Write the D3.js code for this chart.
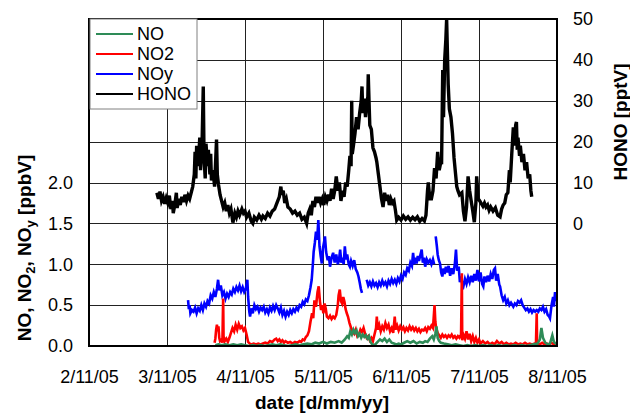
<!DOCTYPE html>
<html>
<head>
<meta charset="utf-8">
<title>NO, NO2, NOy and HONO</title>
<script src="https://d3js.org/d3.v7.min.js"></script>
<style>
body { margin: 0; background: #fff; }
text { font-family: "Liberation Sans", Arial, sans-serif; fill: #000; }
.tick text { font-size: 18px; }
.title { font-weight: bold; font-size: 19px; }
.legend text { font-size: 18px; }
</style>
</head>
<body>
<svg id="chart" width="630" height="413"></svg>
<script>

// ---- data (day of Nov 2005, value) ----
var dayTicks = [2, 3, 4, 5, 6, 7, 8];
var dayLabels = ["2/11/05", "3/11/05", "4/11/05", "5/11/05", "6/11/05", "7/11/05", "8/11/05"];
var leftTicks = [0, 0.5, 1.0, 1.5, 2.0];
var rightTicks = [0, 10, 20, 30, 40, 50];
var seriesNames = ["NO", "NO2", "NOy", "HONO"];
var seriesColors = ["#2e8b57", "#ff0000", "#0000ff", "#000000"];

// HONO [pptV], right axis
var hono = [[2.87,7.5],[2.89,6.0],[2.91,7.8],[2.93,5.5],[2.95,6.5],[2.97,4.8],[2.99,6.2],[3.01,5.0],[3.03,6.8],[3.05,3.5],
  [3.07,5.5],[3.08,2.5],[3.10,4.5],[3.12,7.5],[3.13,3.8],[3.15,6.0],[3.17,4.5],[3.19,6.5],[3.21,5.2],[3.23,7.0],
  [3.25,5.5],[3.27,6.8],[3.29,6.0],[3.31,7.5],[3.33,9.0],[3.35,12],[3.36,17.5],[3.37,11],[3.38,19],[3.40,14],
  [3.42,21],[3.43,13],[3.45,20],[3.465,33.5],[3.475,16],[3.49,11],[3.50,19.5],[3.52,14],[3.53,18],[3.55,12],
  [3.56,17],[3.57,10.5],[3.59,13],[3.61,9],[3.635,20.5],[3.645,12],[3.66,9.5],[3.68,7],[3.70,5.5],[3.72,4],
  [3.74,5],[3.76,3],[3.78,4.5],[3.80,2.5],[3.82,3.5],[3.845,0.2],[3.87,2.5],[3.89,1.5],[3.91,3],[3.93,2],
  [3.96,3.5],[3.98,2.5],[4.00,3],[4.02,1.5],[4.05,2.5],[4.08,0.5],[4.10,0],[4.12,1.5],[4.15,0.8],[4.18,2],
  [4.21,1],[4.23,1.8],[4.26,1.2],[4.29,2.5],[4.32,1.8],[4.35,3],[4.38,3.5],[4.41,5],[4.44,6.5],[4.46,9],
  [4.47,7],[4.49,8],[4.51,5],[4.53,6],[4.55,4],[4.58,3.5],[4.61,2.5],[4.64,3],[4.67,2],[4.70,2.5],
  [4.73,1],[4.76,1.5],[4.79,0],[4.81,2.5],[4.83,3.5],[4.85,2],[4.87,5.5],[4.89,4],[4.91,6.5],[4.93,5],
  [4.95,6.5],[4.97,5],[4.99,6],[5.01,4.5],[5.03,6.5],[5.05,5.5],[5.07,7],[5.09,5.5],[5.11,8.5],[5.13,6],
  [5.15,8],[5.17,11.5],[5.19,8],[5.21,10],[5.23,5.5],[5.25,8],[5.27,6.5],[5.29,10],[5.31,9],[5.33,13],
  [5.345,16.5],[5.36,14],[5.368,30],[5.375,17],[5.39,19],[5.41,22],[5.43,26],[5.45,23],[5.47,27],[5.49,30],
  [5.50,33.5],[5.51,27],[5.53,30.5],[5.545,26],[5.56,29],[5.575,31],[5.58,36.5],[5.59,30],[5.60,24],[5.62,23],
  [5.64,18.5],[5.66,17.5],[5.68,16],[5.69,15],[5.71,12],[5.73,9],[5.75,6],[5.77,4],[5.79,7.5],[5.81,5.5],
  [5.83,7],[5.85,4.5],[5.87,6],[5.89,5],[5.91,5.5],[5.93,3],[5.945,0.8],[5.97,1.5],[6.00,0.8],[6.03,1.8],
  [6.06,1],[6.09,1.6],[6.12,0.8],[6.15,1.5],[6.18,0.9],[6.21,1.6],[6.24,0.5],[6.27,1.2],[6.30,0.6],[6.32,2],
  [6.34,8],[6.35,10],[6.37,6],[6.39,6],[6.41,8],[6.43,13.5],[6.45,11],[6.47,17.5],[6.49,13],[6.51,15],
  [6.52,14.5],[6.535,37.5],[6.545,26],[6.56,40],[6.575,45],[6.585,50],[6.595,42],[6.605,34],[6.62,28],[6.64,26],
  [6.66,22],[6.68,16],[6.70,12],[6.715,9],[6.73,8],[6.75,7],[6.78,7.5],[6.80,3],[6.82,0.5],[6.84,4],
  [6.86,11.5],[6.88,8],[6.90,5.5],[6.92,3],[6.94,0.3],[6.96,5],[6.97,11.5],[6.99,6],[7.01,5.5],[7.03,4.8],
  [7.05,4.2],[7.07,5],[7.09,4],[7.11,4.5],[7.13,3.2],[7.15,4],[7.18,3],[7.21,3.8],[7.24,2],[7.27,1.6],
  [7.29,3.5],[7.31,4.5],[7.33,5],[7.35,7],[7.37,7.5],[7.39,13],[7.40,10],[7.42,17],[7.44,23.5],[7.455,19],
  [7.47,24],[7.48,24.8],[7.49,18],[7.50,21],[7.52,16.5],[7.53,19],[7.55,15],[7.57,17],[7.59,13],[7.61,15],
  [7.63,11],[7.65,12],[7.665,8],[7.676,6.5]];

// NOy [ppbV], left axis (null = gap)
var noy = [[3.27,0.56],[3.28,0.45],[3.29,0.50],[3.30,0.40],[3.32,0.44],[3.34,0.42],[3.36,0.47],[3.38,0.40],[3.40,0.46],[3.42,0.43],
  [3.44,0.50],[3.46,0.44],[3.48,0.52],[3.50,0.48],[3.52,0.55],[3.54,0.52],[3.56,0.62],[3.58,0.58],[3.60,0.66],[3.62,0.60],
  [3.64,0.70],[3.655,0.81],[3.67,0.68],[3.69,0.74],[3.71,0.62],[3.73,0.66],[3.75,0.58],[3.77,0.64],[3.79,0.60],[3.81,0.66],
  [3.83,0.63],[3.85,0.70],[3.87,0.66],[3.89,0.72],[3.91,0.68],[3.93,0.74],[3.95,0.67],[3.97,0.72],[3.99,0.66],[4.01,0.70],
  [4.03,0.81],[4.04,0.60],[4.055,0.42],[4.065,0.36],[4.08,0.46],[4.10,0.40],[4.12,0.50],[4.14,0.45],[4.16,0.48],[4.18,0.42],
  [4.20,0.47],[4.22,0.44],[4.24,0.48],[4.26,0.41],[4.28,0.45],[4.30,0.40],[4.32,0.47],[4.34,0.43],[4.36,0.49],[4.38,0.44],
  [4.40,0.50],[4.42,0.46],[4.44,0.41],[4.46,0.47],[4.48,0.38],[4.50,0.43],[4.52,0.36],[4.54,0.42],[4.56,0.38],[4.58,0.44],
  [4.60,0.40],[4.62,0.45],[4.64,0.42],[4.66,0.47],[4.68,0.44],[4.70,0.50],[4.72,0.48],[4.74,0.54],[4.76,0.51],[4.78,0.57],
  [4.80,0.55],[4.82,0.62],[4.84,0.72],[4.855,0.81],[4.87,1.0],[4.88,1.15],[4.895,1.26],[4.91,1.40],[4.925,1.30],[4.94,1.54],
  [4.955,1.22],[4.97,1.10],[4.985,1.01],[5.00,1.20],[5.015,1.28],[5.025,1.34],[5.04,1.15],[5.06,1.05],[5.075,1.10],[5.09,0.97],
  [5.11,1.08],[5.13,1.14],[5.15,1.02],[5.17,1.12],[5.19,1.0],[5.205,1.05],[5.22,1.18],[5.235,1.02],[5.25,1.08],[5.265,1.0],
  [5.28,1.22],[5.295,1.06],[5.31,1.12],[5.33,1.0],[5.345,0.97],[5.36,1.04],[5.38,0.98],[5.40,1.05],[5.42,0.94],[5.44,0.90],
  [5.455,0.85],[5.47,0.78],[5.485,0.70],[5.50,0.65],null,[5.56,0.81],[5.58,0.74],[5.60,0.78],[5.62,0.73],[5.64,0.79],
  [5.66,0.74],[5.68,0.77],[5.70,0.72],[5.72,0.78],[5.74,0.74],[5.76,0.80],[5.78,0.75],[5.80,0.78],[5.82,0.73],[5.84,0.80],
  [5.86,0.76],[5.88,0.82],[5.90,0.77],[5.92,0.81],[5.94,0.76],[5.96,0.83],[5.98,0.79],[6.00,0.86],[6.02,0.82],[6.04,0.90],
  [6.06,0.87],[6.08,0.95],[6.10,0.92],[6.12,1.02],[6.14,0.98],[6.155,1.14],[6.17,1.0],[6.185,1.08],[6.20,1.01],[6.215,1.10],
  [6.23,1.04],[6.25,1.12],[6.265,1.18],[6.28,1.02],[6.295,1.08],[6.31,0.97],[6.33,1.06],[6.35,1.02],[6.37,1.05],[6.39,1.0],
  [6.41,1.06],[6.425,1.0],null,[6.445,1.34],[6.46,1.22],[6.47,1.12],[6.485,1.05],[6.50,1.01],[6.515,0.90],[6.53,0.85],
  [6.545,0.95],[6.56,0.88],[6.575,0.97],[6.59,0.90],[6.61,0.98],[6.63,0.86],[6.65,0.95],[6.67,0.88],[6.69,1.0],[6.705,1.18],
  [6.72,0.92],[6.74,0.97],[6.755,0.78],[6.77,0.85],[6.785,0.76],[6.80,0.73],[6.82,0.82],[6.84,0.76],[6.86,0.84],[6.88,0.78],
  [6.90,0.86],[6.92,0.78],[6.94,0.88],[6.96,0.80],[6.98,0.93],[7.00,0.79],[7.02,0.90],[7.04,0.76],[7.055,0.73],[7.07,0.85],
  [7.09,0.78],[7.11,0.86],[7.13,0.79],[7.15,0.88],[7.17,0.82],[7.19,0.93],[7.205,0.95],[7.22,0.80],[7.24,0.88],[7.26,0.75],
  [7.27,0.73],[7.29,0.62],[7.31,0.56],[7.33,0.60],[7.35,0.52],[7.37,0.56],[7.39,0.50],[7.41,0.53],[7.44,0.48],[7.46,0.52],
  [7.48,0.50],[7.50,0.55],[7.52,0.53],[7.54,0.56],[7.56,0.50],[7.58,0.47],[7.60,0.44],[7.62,0.46],[7.64,0.42],[7.66,0.45],
  [7.68,0.41],[7.70,0.44],[7.72,0.42],[7.74,0.44],[7.76,0.42],[7.78,0.46],[7.80,0.44],[7.82,0.48],[7.84,0.42],[7.86,0.45],
  [7.88,0.38],[7.90,0.36],[7.91,0.34],[7.93,0.50],[7.95,0.60],[7.96,0.48],[7.975,0.66],[7.99,0.55],[8.0,0.60]];

// NO2 [ppbV], left axis
var no2 = [[3.61,0.04],[3.62,0.09],[3.63,0.20],[3.64,0.26],[3.65,0.18],[3.66,0.24],[3.67,0.10],[3.68,0.06],[3.70,0.08],[3.71,0.04],
  [3.72,0.58],[3.725,0.12],[3.74,0.06],[3.76,0.09],[3.78,0.05],[3.80,0.10],[3.82,0.16],[3.84,0.22],[3.86,0.18],[3.88,0.26],
  [3.90,0.20],[3.92,0.27],[3.94,0.22],[3.96,0.24],[3.98,0.19],[4.00,0.22],[4.02,0.14],[4.04,0.05],[4.06,0.03],[4.08,0.02],
  [4.11,0.03],[4.14,0.02],[4.17,0.03],[4.20,0.02],[4.23,0.03],[4.26,0.04],[4.29,0.03],[4.32,0.06],[4.35,0.05],[4.38,0.08],
  [4.40,0.09],[4.42,0.06],[4.44,0.08],[4.46,0.05],[4.48,0.07],[4.50,0.04],[4.52,0.06],[4.55,0.04],[4.58,0.05],[4.61,0.03],
  [4.64,0.05],[4.67,0.04],[4.70,0.06],[4.72,0.05],[4.74,0.08],[4.76,0.07],[4.78,0.11],[4.80,0.13],[4.82,0.18],[4.84,0.30],
  [4.86,0.40],[4.875,0.34],[4.89,0.56],[4.91,0.48],[4.93,0.66],[4.945,0.73],[4.96,0.55],[4.975,0.44],[4.99,0.50],[5.005,0.40],
  [5.02,0.52],[5.035,0.46],[5.05,0.36],[5.07,0.34],[5.09,0.37],[5.11,0.33],[5.13,0.36],[5.15,0.34],[5.17,0.38],[5.19,0.50],
  [5.20,0.62],[5.215,0.69],[5.23,0.55],[5.245,0.52],[5.26,0.60],[5.275,0.54],[5.29,0.45],[5.305,0.40],[5.32,0.36],[5.34,0.28],
  [5.36,0.22],[5.38,0.18],[5.40,0.15],[5.42,0.20],[5.44,0.12],[5.46,0.14],[5.48,0.20],[5.50,0.17],[5.52,0.22],[5.54,0.15],
  [5.56,0.10],[5.58,0.12],[5.60,0.07],[5.62,0.10],[5.64,0.06],[5.66,0.14],[5.68,0.22],[5.69,0.36],[5.70,0.20],[5.72,0.26],
  [5.74,0.18],[5.76,0.24],[5.78,0.20],[5.80,0.28],[5.82,0.22],[5.84,0.26],[5.86,0.18],[5.88,0.22],[5.90,0.16],[5.92,0.36],
  [5.93,0.20],[5.95,0.25],[5.97,0.19],[5.99,0.24],[6.01,0.20],[6.03,0.23],[6.05,0.18],[6.07,0.22],[6.09,0.19],[6.11,0.24],
  [6.13,0.20],[6.15,0.23],[6.17,0.19],[6.19,0.22],[6.21,0.18],[6.23,0.21],[6.25,0.17],[6.27,0.20],[6.29,0.19],[6.31,0.22],
  [6.33,0.18],[6.35,0.23],[6.37,0.21],[6.39,0.25],[6.41,0.22],[6.43,0.50],[6.44,0.30],[6.45,0.22],[6.47,0.16],[6.49,0.13],
  [6.51,0.10],[6.53,0.14],[6.55,0.11],[6.57,0.13],[6.59,0.10],[6.61,0.13],[6.63,0.11],[6.65,0.14],[6.67,0.10],[6.69,0.12],
  [6.71,0.09],[6.73,0.12],[6.75,0.10],[6.77,0.14],[6.78,0.89],[6.785,0.07],[6.80,0.14],[6.82,0.09],[6.84,0.18],[6.86,0.08],
  [6.88,0.15],[6.90,0.06],[6.92,0.12],[6.94,0.05],[6.96,0.10],[6.98,0.04],[7.00,0.08],[7.02,0.03],[7.05,0.06],[7.08,0.03],
  [7.11,0.05],[7.14,0.02],[7.17,0.04],[7.20,0.02],[7.23,0.06],[7.26,0.03],[7.29,0.05],[7.32,0.02],[7.35,0.04],[7.38,0.02],
  [7.41,0.03],[7.44,0.02],[7.47,0.04],[7.50,0.02],[7.53,0.03],[7.56,0.02],[7.59,0.04],[7.62,0.02],[7.65,0.03],[7.68,0.02],
  [7.71,0.03],[7.73,0.02],[7.74,0.40],[7.745,0.03],[7.78,0.02],[7.81,0.04],[7.84,0.02],[7.87,0.03],[7.90,0.02],[7.93,0.04],
  [7.96,0.02],[8.0,0.03]];

// NO [ppbV], left axis
var no = [[3.62,0.01],[3.66,0.02],[3.70,0.01],[3.75,0.02],[3.80,0.01],[3.85,0.02],[3.90,0.01],[3.95,0.02],[4.0,0.01],[4.05,0.0],
  [4.10,0.01],[4.15,0.0],[4.20,0.01],[4.25,0.0],[4.30,0.01],[4.35,0.02],[4.40,0.01],[4.45,0.02],[4.50,0.01],[4.55,0.0],
  [4.60,0.01],[4.65,0.02],[4.70,0.01],[4.75,0.02],[4.80,0.03],[4.85,0.02],[4.90,0.04],[4.95,0.03],[5.0,0.05],[5.05,0.03],
  [5.10,0.05],[5.15,0.04],[5.20,0.06],[5.24,0.04],[5.28,0.08],[5.31,0.12],[5.33,0.10],[5.35,0.18],[5.37,0.14],[5.39,0.20],
  [5.41,0.16],[5.43,0.19],[5.45,0.12],[5.47,0.15],[5.49,0.10],[5.51,0.14],[5.53,0.11],[5.55,0.13],[5.57,0.09],[5.59,0.12],
  [5.61,0.05],[5.63,0.02],[5.65,0.01],[5.67,0.02],[5.70,0.05],[5.73,0.08],[5.76,0.06],[5.79,0.09],[5.82,0.05],[5.85,0.08],
  [5.88,0.04],[5.91,0.03],[5.94,0.02],[5.97,0.03],[6.0,0.02],[6.04,0.04],[6.08,0.06],[6.12,0.04],[6.16,0.06],[6.20,0.03],
  [6.24,0.05],[6.28,0.04],[6.31,0.06],[6.34,0.05],[6.37,0.09],[6.40,0.12],[6.42,0.08],[6.44,0.15],[6.455,0.24],[6.47,0.10],
  [6.49,0.06],[6.51,0.04],[6.55,0.03],[6.60,0.02],[6.65,0.01],[6.70,0.02],[6.75,0.01],[6.80,0.0],[6.85,0.01],[6.90,0.0],
  [6.95,0.01],[7.0,0.0],[7.05,0.01],[7.10,0.0],[7.15,0.01],[7.20,0.0],[7.25,0.01],[7.30,0.0],[7.35,0.01],[7.40,0.0],
  [7.45,0.01],[7.50,0.0],[7.55,0.01],[7.60,0.0],[7.65,0.01],[7.70,0.02],[7.75,0.03],[7.78,0.08],[7.80,0.22],[7.82,0.10],
  [7.85,0.04],[7.88,0.02],[7.91,0.03],[7.94,0.13],[7.96,0.05],[8.0,0.02]];

// ---- layout ----
var margin = {top: 19, right: 73, bottom: 67, left: 89},
    width = 630 - margin.left - margin.right,
    height = 413 - margin.top - margin.bottom;

var x = d3.scaleLinear().domain([2, 8]).range([0, width]);
var yL = d3.scaleLinear().domain([0, 4]).range([height, 0]);
var yR = d3.scaleLinear().domain([-30, 50]).range([height, 0]);

var svg = d3.select("#chart");
var g = svg.append("g")
    .attr("transform", "translate(" + margin.left + "," + margin.top + ")");

// grid
g.append("g").selectAll("line")
    .data(d3.range(0.5, 4, 0.5))
  .enter().append("line")
    .attr("x1", 0).attr("x2", width)
    .attr("y1", function(d) { return Math.round(yL(d)) + 0.5; })
    .attr("y2", function(d) { return Math.round(yL(d)) + 0.5; })
    .attr("stroke", "#222").attr("stroke-width", 1);
g.append("g").selectAll("line")
    .data(dayTicks.slice(1, -1))
  .enter().append("line")
    .attr("y1", 0).attr("y2", height)
    .attr("x1", function(d) { return Math.round(x(d)) + 0.5; })
    .attr("x2", function(d) { return Math.round(x(d)) + 0.5; })
    .attr("stroke", "#222").attr("stroke-width", 1);

// axes
g.append("g")
    .attr("transform", "translate(0," + height + ")")
    .call(d3.axisBottom(x).tickValues(dayTicks)
      .tickFormat(function(d, i) { return dayLabels[i]; })
      .tickSize(0).tickPadding(24))
    .call(function(a) { a.select(".domain").remove(); });

g.append("g")
    .call(d3.axisLeft(yL).tickValues(leftTicks).tickFormat(d3.format(".1f"))
      .tickSize(0).tickPadding(16))
    .call(function(a) { a.select(".domain").remove(); });

g.append("g")
    .attr("transform", "translate(" + width + ",0)")
    .call(d3.axisRight(yR).tickValues(rightTicks).tickFormat(d3.format("d"))
      .tickSize(0).tickPadding(16))
    .call(function(a) { a.select(".domain").remove(); });

svg.selectAll(".tick text").attr("fill", "#000");

// series
g.append("clipPath").attr("id", "clip")
  .append("rect").attr("width", width).attr("height", height);

var lineL = d3.line()
    .defined(function(d) { return d != null; })
    .x(function(d) { return x(d[0]); })
    .y(function(d) { return yL(d[1]); });
var lineR = d3.line()
    .defined(function(d) { return d != null; })
    .x(function(d) { return x(d[0]); })
    .y(function(d) { return yR(d[1]); });

var plot = g.append("g").attr("clip-path", "url(#clip)");
plot.append("path").datum(hono).attr("d", lineR)
    .attr("fill", "none").attr("stroke", seriesColors[3]).attr("stroke-width", 3.4);
plot.append("path").datum(noy).attr("d", lineL)
    .attr("fill", "none").attr("stroke", seriesColors[2]).attr("stroke-width", 2.6);
plot.append("path").datum(no2).attr("d", lineL)
    .attr("fill", "none").attr("stroke", seriesColors[1]).attr("stroke-width", 2.6);
plot.append("path").datum(no).attr("d", lineL)
    .attr("fill", "none").attr("stroke", seriesColors[0]).attr("stroke-width", 2.6);

// frame
g.append("rect")
    .attr("width", width).attr("height", height)
    .attr("fill", "none").attr("stroke", "#000").attr("stroke-width", 2);

// legend
var legend = g.append("g").attr("class", "legend").attr("transform", "translate(1,0)");
legend.append("rect")
    .attr("x", 0).attr("y", 0).attr("width", 107).attr("height", 90)
    .attr("fill", "#fff").attr("stroke", "#808080").attr("stroke-width", 1);
seriesNames.forEach(function(name, i) {
  var yy = 15 + i * 20;
  legend.append("line")
    .attr("x1", 6).attr("x2", 43).attr("y1", yy).attr("y2", yy)
    .attr("stroke", seriesColors[i]).attr("stroke-width", 2);
  legend.append("text")
    .attr("x", 47).attr("y", yy).attr("dy", "0.35em")
    .text(name);
});

// axis titles
svg.append("text").attr("class", "title")
    .attr("x", 322).attr("y", 409).attr("text-anchor", "middle")
    .text("date [d/mm/yy]");

var lt = svg.append("text").attr("class", "title")
    .attr("transform", "translate(31,248) rotate(-90)")
    .attr("text-anchor", "middle");
lt.append("tspan").text("NO, NO");
lt.append("tspan").attr("font-size", "13px").attr("dy", 4).text("2");
lt.append("tspan").attr("dy", -4).text(", NO");
lt.append("tspan").attr("font-size", "13px").attr("dy", 4).text("y");
lt.append("tspan").attr("dy", -4).text(" [ppbV]");

svg.append("text").attr("class", "title")
    .attr("transform", "translate(627,122) rotate(-90)")
    .attr("text-anchor", "middle")
    .text("HONO [pptV]");

</script>
</body>
</html>
